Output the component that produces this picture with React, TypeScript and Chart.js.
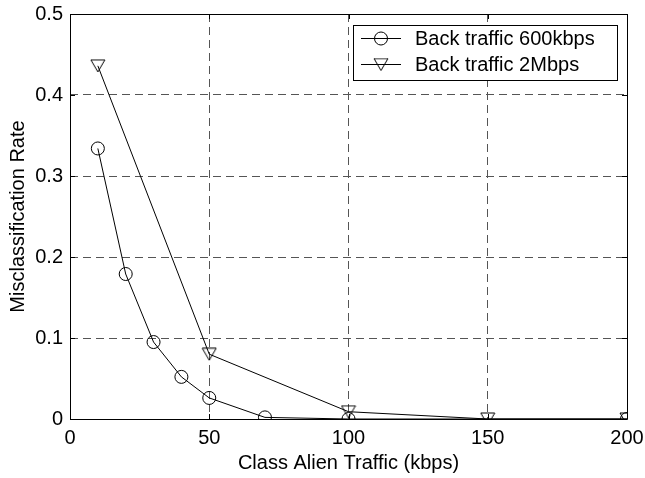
import React, { useEffect, useRef } from "react";
import { Chart, registerables } from "chart.js";

Chart.register(...registerables);

const xTicks = [0, 50, 100, 150, 200];
const yTicks = [0, 0.1, 0.2, 0.3, 0.4, 0.5];

const x600 = [10, 20, 30, 40, 50, 70, 100, 200];
const y600 = [0.334, 0.179, 0.095, 0.052, 0.026, 0.002, 0.0, 0.0];

const x2M = [10, 50, 100, 150, 200];
const y2M = [0.436, 0.08, 0.009, 0.0, 0.0];

const labels = ["Back traffic 600kbps", "Back traffic 2Mbps"];
const xTitle = "Class Alien Traffic (kbps)";
const yTitle = "Misclassification Rate";

const FONT = "'Liberation Sans', Arial, Helvetica, sans-serif";
const FS = 20;

function makeTriangle(w: number, h: number): HTMLCanvasElement {
  const c = document.createElement("canvas");
  c.width = w + 2;
  c.height = h + 2;
  const ctx = c.getContext("2d")!;
  ctx.strokeStyle = "#000";
  ctx.lineWidth = 1;
  ctx.beginPath();
  ctx.moveTo(1, 1);
  ctx.lineTo(w + 1, 1);
  ctx.lineTo(w / 2 + 1, h + 1);
  ctx.closePath();
  ctx.stroke();
  return c;
}

export default function App() {
  const ref = useRef<HTMLCanvasElement | null>(null);

  useEffect(() => {
    document.body.style.margin = "0";
    const tri = makeTriangle(14, 12);

    const frame = {
      id: "frame",
      afterDatasetsDraw(chart: any) {
        const { ctx, chartArea: a, scales } = chart;
        ctx.save();
        ctx.strokeStyle = "#000";
        ctx.lineWidth = 1;
        ctx.beginPath();
        ctx.rect(Math.round(a.left) + 0.5, Math.round(a.top) + 0.5, Math.round(a.right - a.left), Math.round(a.bottom - a.top));
        ctx.stroke();
        const tl = 5;
        ctx.beginPath();
        for (const t of xTicks) {
          const px = Math.round(scales.x.getPixelForValue(t)) + 0.5;
          ctx.moveTo(px, a.bottom);
          ctx.lineTo(px, a.bottom - tl);
          ctx.moveTo(px, a.top);
          ctx.lineTo(px, a.top + tl);
        }
        for (const t of yTicks) {
          const py = Math.round(scales.y.getPixelForValue(t)) + 0.5;
          ctx.moveTo(a.left, py);
          ctx.lineTo(a.left + tl, py);
          ctx.moveTo(a.right, py);
          ctx.lineTo(a.right - tl, py);
        }
        ctx.stroke();

        // legend
        const bx = 353.5, by = 25.5, bw = 264, bh = 55;
        ctx.fillStyle = "#fff";
        ctx.fillRect(bx, by, bw, bh);
        ctx.strokeRect(bx, by, bw, bh);
        ctx.font = `${FS}px ${FONT}`;
        ctx.textBaseline = "middle";
        ctx.textAlign = "left";
        const rows = [38, 64];
        rows.forEach((ry, i) => {
          ctx.strokeStyle = "#000";
          ctx.beginPath();
          ctx.moveTo(361, ry + 0.5);
          ctx.lineTo(401, ry + 0.5);
          ctx.stroke();
          if (i === 0) {
            ctx.beginPath();
            ctx.arc(381, ry + 0.5, 6.5, 0, Math.PI * 2);
            ctx.stroke();
          } else {
            ctx.drawImage(tri, 381 - tri.width / 2, ry + 0.5 - tri.height / 2);
          }
          ctx.fillStyle = "#000";
          ctx.fillText(chart.data.datasets[i].label, 415, ry + 1);
        });
        ctx.restore();
      },
    };

    const chart = new Chart(ref.current!, {
      type: "scatter",
      data: {
        datasets: [
          {
            label: labels[0],
            data: x600.map((x, i) => ({ x, y: y600[i] })),
            showLine: true,
            borderColor: "#000",
            borderWidth: 1,
            backgroundColor: "rgba(0,0,0,0)",
            pointStyle: "circle",
            pointRadius: 6.5,
            pointBorderColor: "#000",
            pointBorderWidth: 1,
            pointBackgroundColor: "rgba(0,0,0,0)",
          },
          {
            label: labels[1],
            data: x2M.map((x, i) => ({ x, y: y2M[i] })),
            showLine: true,
            borderColor: "#000",
            borderWidth: 1,
            backgroundColor: "rgba(0,0,0,0)",
            pointStyle: tri as any,
            pointRadius: 7,
          },
        ],
      },
      options: {
        animation: false,
        responsive: false,
        events: [],
        layout: { padding: { top: 14, right: 18, left: 0, bottom: 0 } },
        plugins: { legend: { display: false }, tooltip: { enabled: false } },
        scales: {
          x: {
            type: "linear",
            min: 0,
            max: 200,
            afterBuildTicks: (s: any) => {
              s.ticks = xTicks.map((v) => ({ value: v }));
            },
            afterFit: (s: any) => {
              s.height = 59;
              s.paddingLeft = 0;
              s.paddingRight = 0;
            },
            grid: { color: "#555", lineWidth: 1, drawTicks: false },
            border: { display: false, dash: [8, 5] },
            ticks: { color: "#000", font: { family: FONT, size: FS }, padding: 7, maxRotation: 0 },
            title: { display: true, text: xTitle, color: "#000", font: { family: FONT, size: FS }, padding: { top: 0, bottom: 3 } },
          },
          y: {
            type: "linear",
            min: 0,
            max: 0.5,
            afterBuildTicks: (s: any) => {
              s.ticks = yTicks.map((v) => ({ value: v }));
            },
            afterFit: (s: any) => {
              s.width = 70;
              s.paddingTop = 0;
              s.paddingBottom = 0;
            },
            grid: { color: "#555", lineWidth: 1, drawTicks: false },
            border: { display: false, dash: [8, 5] },
            ticks: { color: "#000", font: { family: FONT, size: FS }, padding: 7, callback: (v: any) => String(v) },
            title: { display: true, text: yTitle, color: "#000", font: { family: FONT, size: FS }, padding: { top: 6, bottom: 0 } },
          },
        },
      },
      plugins: [frame],
    });
    return () => chart.destroy();
  }, []);

  return (
    <div style={{ position: "fixed", left: 0, top: 0, width: 645, height: 478, background: "#fff" }}>
      <canvas ref={ref} width={645} height={478} />
    </div>
  );
}
